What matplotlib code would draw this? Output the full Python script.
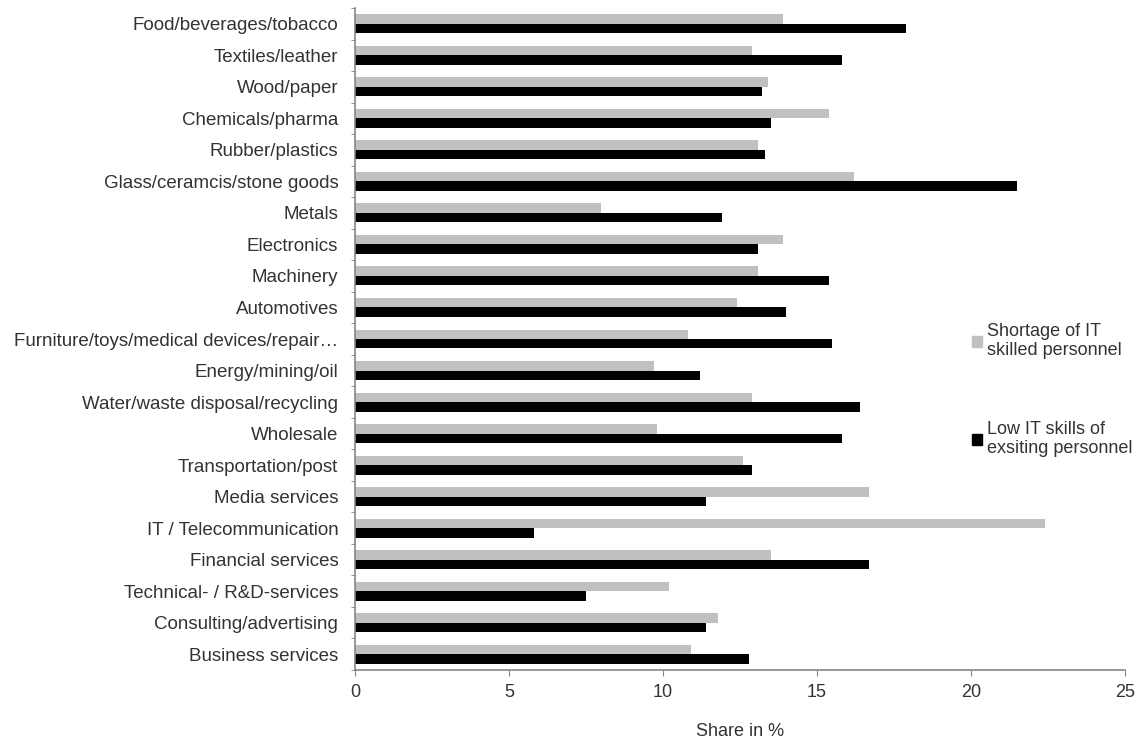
import matplotlib
matplotlib.use("Agg")
import matplotlib.pyplot as plt
import numpy as np
from matplotlib.patches import Patch

categories = [
    "Food/beverages/tobacco", "Textiles/leather", "Wood/paper", "Chemicals/pharma",
    "Rubber/plastics", "Glass/ceramcis/stone goods", "Metals", "Electronics",
    "Machinery", "Automotives", "Furniture/toys/medical devices/repair\u2026",
    "Energy/mining/oil", "Water/waste disposal/recycling", "Wholesale",
    "Transportation/post", "Media services", "IT / Telecommunication",
    "Financial services", "Technical- / R&D-services", "Consulting/advertising",
    "Business services",
]
shortage = [13.9, 12.9, 13.4, 15.4, 13.1, 16.2, 8.0, 13.9, 13.1, 12.4, 10.8,
            9.7, 12.9, 9.8, 12.6, 16.7, 22.4, 13.5, 10.2, 11.8, 10.9]
low_skills = [17.9, 15.8, 13.2, 13.5, 13.3, 21.5, 11.9, 13.1, 15.4, 14.0, 15.5,
              11.2, 16.4, 15.8, 12.9, 11.4, 5.8, 16.7, 7.5, 11.4, 12.8]
series_labels = ["Shortage of IT\nskilled personnel", "Low IT skills of\nexsiting personnel"]
xticks = [0, 5, 10, 15, 20, 25]

plt.rcParams['font.family'] = ['Liberation Sans', 'DejaVu Sans']
text_color = '#333333'
spine_color = '#868686'

fig = plt.figure(figsize=(11.4, 7.4), dpi=100)
ax = fig.add_axes([355/1140, 1 - 670/740, 770/1140, 662/740])

y = np.arange(len(categories))
h = 0.3
ax.barh(y - h/2, shortage, height=h, color='#C0C0C0', label=series_labels[0])
ax.barh(y + h/2, low_skills, height=h, color='#000000', label=series_labels[1])

ax.set_ylim(len(categories) - 0.5, -0.5)
ax.set_xlim(0, 25)
ax.set_yticks(y)
ax.set_yticklabels(categories, fontsize=13.5, color=text_color)
ax.set_xticks(xticks)
ax.set_xticklabels([str(t) for t in xticks], fontsize=13, color=text_color)
ax.tick_params(axis='y', length=0, pad=12)
ax.tick_params(axis='x', length=4, direction='out', color=spine_color, pad=6)
ax.set_yticks(np.arange(-0.5, len(categories) + 0.5, 1), minor=True)
ax.tick_params(axis='y', which='minor', length=3, color=spine_color, direction='out')

for s in ['top', 'right']:
    ax.spines[s].set_visible(False)
for s in ['left', 'bottom']:
    ax.spines[s].set_color(spine_color)
    ax.spines[s].set_linewidth(1.2)

ax.set_xlabel("Share in %", fontsize=13, color=text_color, labelpad=16)

handles = [Patch(color='#C0C0C0'), Patch(color='#000000')]
ax.legend(handles, series_labels, loc='center left', bbox_to_anchor=(0.78, 0.423),
          frameon=False, fontsize=13, handlelength=0.55, handleheight=0.55,
          handletextpad=0.3, labelspacing=3.4, labelcolor=text_color)

fig.savefig("out.png", dpi=100)
